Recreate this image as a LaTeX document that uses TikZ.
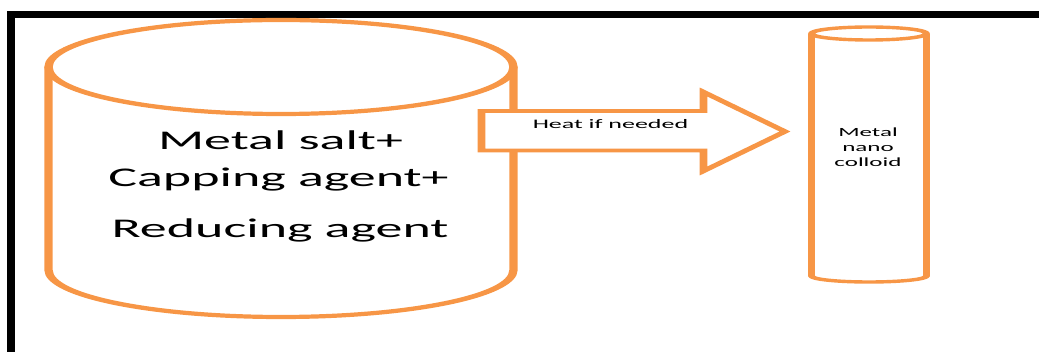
\documentclass[tikz,border=0pt]{standalone}
\usepackage{fontspec}
\setmainfont{Carlito}
\definecolor{accent}{HTML}{F79646}
\begin{document}
\begin{tikzpicture}[x=1pt,y=-1pt,
  vessel/.style={draw=accent, line width=4.2pt, line join=round},
  tube/.style={draw=accent, line width=3.4pt, line join=round},
  blockarrow/.style={draw=accent, fill=white, line width=3.8pt, line join=miter},
  bigtext/.style={anchor=base, inner sep=0pt, font=\fontsize{27}{30}\selectfont},
  smalltext/.style={anchor=base, inner sep=0pt, font=\fontsize{13}{15}\selectfont},
  tubetext/.style={anchor=base, inner sep=0pt, font=\fontsize{12.5}{15}\selectfont}]
\useasboundingbox (0,0) rectangle (1039,352);
% frame
\draw[line width=7.5pt, line join=miter] (11.2,360) -- (11.2,14.6) -- (1050,14.6);
% everything else is drawn on a horizontally stretched canvas
\begin{scope}[transform canvas={xscale=2}]
  % reaction vessel
  \draw[vessel] (24.25,67) -- (24.25,270)
    arc[start angle=180, end angle=0, x radius=116.25, y radius=47]
    -- (256.75,67);
  \draw[vessel] (140.5,67) ellipse [x radius=116.25, y radius=47];
  % product tube
  \draw[tube] (405.75,33.5) -- (405.75,276)
    arc[start angle=180, end angle=0, x radius=28.75, y radius=6]
    -- (463.25,33.5);
  \draw[tube] (434.5,33.5) ellipse [x radius=28.75, y radius=6.5];
  % process arrow
  \draw[blockarrow] (240.75,111) -- (351.75,111) -- (351.75,92)
    -- (392.5,131.5) -- (351.75,171) -- (351.75,150.5)
    -- (240.75,150.5) -- cycle;
  % labels
  \node[bigtext] (salt) at (140.25,150) {Metal salt+};
  \node[bigtext] (capping) at (139.25,186.5) {Capping agent+};
  \node[bigtext] (reducing) at (140,237.5) {Reducing agent};
  \node[smalltext] (heat) at (305.25,128.5) {Heat if needed};
  \node[tubetext] (metal) at (434,136.5) {Metal};
  \node[tubetext] (nano) at (434,151.5) {nano};
  \node[tubetext] (colloid) at (434,166.5) {colloid};
\end{scope}
\end{tikzpicture}
\end{document}
